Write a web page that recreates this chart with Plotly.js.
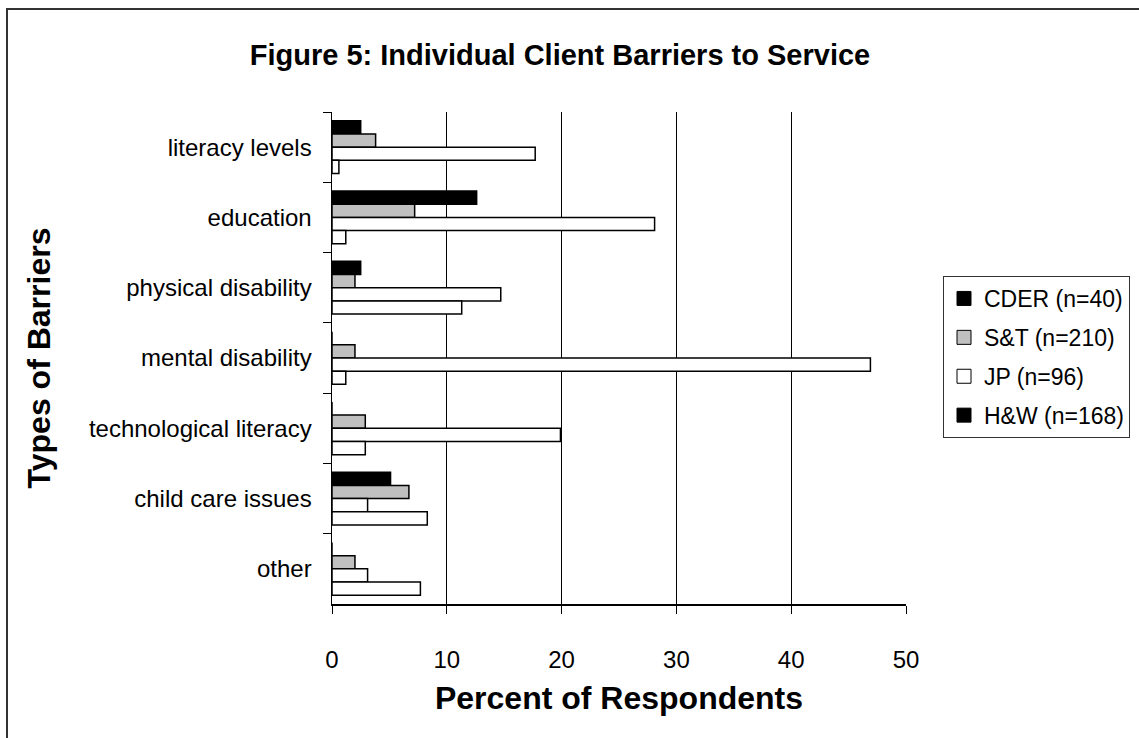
<!DOCTYPE html>
<html>
<head>
<meta charset="utf-8">
<script src="https://cdn.plot.ly/plotly-3.0.1.min.js"></script>
<style>html,body{margin:0;padding:0;background:#fff;overflow:hidden;}#chart{width:1139px;height:738px;}</style>
</head>
<body>
<div id="chart"></div>
<script>
const categories = ['literacy levels', 'education', 'physical disability', 'mental disability', 'technological literacy', 'child care issues', 'other'];
const seriesNames = ['CDER (n=40)', 'S&T (n=210)', 'JP (n=96)', 'H&W (n=168)'];
const cder = [2.5, 12.6, 2.5, 0, 0, 5.1, 0];
const snt = [3.8, 7.2, 2.0, 2.0, 2.9, 6.7, 2.0];
const jp = [17.7, 28.1, 14.7, 46.9, 19.9, 3.1, 3.1];
const hw = [0.6, 1.2, 11.3, 1.2, 2.9, 8.3, 7.7];
const xTicks = [0, 10, 20, 30, 40, 50];

const barFills = ['#000000', '#c0c0c0', '#ffffff', '#ffffff'];
const legendFills = ['#000000', '#c0c0c0', '#ffffff', '#000000'];
const values = [cder, snt, jp, hw];
const FONT = '"Liberation Sans", Arial, Helvetica, sans-serif';

const traces = [];
values.forEach((v, i) => {
  traces.push({
    type: 'bar', orientation: 'h', x: v, y: categories, name: seriesNames[i],
    marker: {color: barFills[i], line: {color: '#000', width: 1.5}},
    showlegend: false, hoverinfo: 'x+y'
  });
});
seriesNames.forEach((n, i) => {
  traces.push({
    type: 'scatter', mode: 'markers', x: [null], y: [null], name: n,
    legendgroup: 'g' + i,
    marker: {symbol: 'square', size: 14, color: legendFills[i], line: {color: '#000', width: 1}},
    showlegend: true
  });
});

const W = 1139, H = 738, L = 332, R = 906, T = 112, B = 604;
const px = x => (x - L) / (R - L);
const py = y => (B - y) / (B - T);

const layout = {
  width: W, height: H,
  paper_bgcolor: '#fff', plot_bgcolor: '#fff',
  font: {family: FONT, color: '#000'},
  margin: {l: L, r: W - R, t: T, b: H - B, pad: 0, autoexpand: false},
  title: {text: '<b>Figure 5: Individual Client Barriers to Service</b>', font: {family: FONT, size: 29, color: '#000'},
          xref: 'container', x: 560 / W, xanchor: 'center', yref: 'container', y: 1 - 55 / H, yanchor: 'middle'},
  barmode: 'group', bargap: 0.25, bargroupgap: 0,
  xaxis: {
    range: [0, 50], tickvals: xTicks, ticktext: xTicks.map(String),
    showgrid: true, gridcolor: '#000', gridwidth: 1, zeroline: false,
    showline: true, linecolor: '#000', linewidth: 1.5,
    ticks: 'outside', ticklen: 8, tickcolor: '#000', tickwidth: 1,
    ticklabelstandoff: 26,
    tickfont: {family: FONT, size: 24, color: '#000'},
    title: {text: '<b>Percent of Respondents</b>', font: {family: FONT, size: 32, color: '#000'}, standoff: 14},
    automargin: false, fixedrange: true
  },
  yaxis: {
    type: 'category', autorange: 'reversed', categoryorder: 'array', categoryarray: categories,
    showgrid: false, zeroline: false,
    showline: true, linecolor: '#000', linewidth: 1.5,
    ticks: 'outside', ticklen: 8, tickcolor: '#000', tickwidth: 1, tickson: 'boundaries',
    ticklabelstandoff: 14,
    tickfont: {family: FONT, size: 24, color: '#000'},
    title: {text: '<b>Types of Barriers</b>', font: {family: FONT, size: 32, color: '#000'}, standoff: 28},
    automargin: false, fixedrange: true
  },
  legend: {
    x: px(943), xanchor: 'left', y: py(276), yanchor: 'top',
    bordercolor: '#333', borderwidth: 1, bgcolor: '#fff',
    font: {family: FONT, size: 23, color: '#000'},
    itemwidth: 30, traceorder: 'grouped', tracegroupgap: 6
  },
  shapes: [
    {type: 'rect', xref: 'paper', yref: 'paper', x0: px(7), x1: px(1150), y0: py(750), y1: py(9),
     line: {color: '#333', width: 2}, fillcolor: 'rgba(0,0,0,0)', layer: 'below'}
  ]
};

Plotly.newPlot('chart', traces, layout, {staticPlot: true, displayModeBar: false});
</script>
</body>
</html>
